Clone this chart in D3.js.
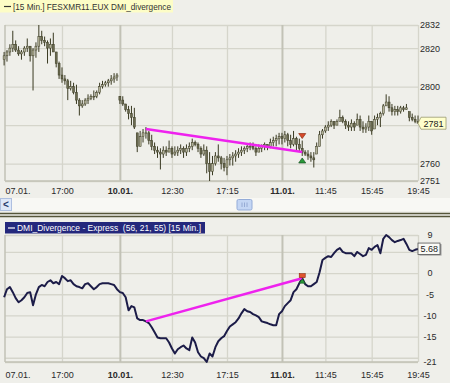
<!DOCTYPE html>
<html><head><meta charset="utf-8">
<script src="https://cdn.jsdelivr.net/npm/d3@7"></script>
<style>
body{margin:0;background:#efefea;}
svg{display:block}
text{font-family:"Liberation Sans",Arial,sans-serif;}
</style>
</head><body>
<svg id="c" width="450" height="383"></svg>
<script>
// ---- data: 15-min bars, 07.01. ~12:00 to 11.01. 19:45 ----
const opens = [
2814,2816,2818,2820,2822,2819,2817,2818,2820,2821,
2816,2819,2821,2826,2824,2823,2820,2822,2818,2812,
2806,2804,2803,2799,2800,2797,2793,2790,2791,2793,
2794,2795,2795,2797,2800,2801,2802,2803,2804,2805,
2795,2793,2791,2788,2786,2784,2776,2769,2774,2776,
2776,2772,2769,2767,2766,2765,2767,2766,2768,2765,
2766,2767,2768,2766,2768,2769,2771,2770,2768,2765,
2767,2760,2756,2760,2764,2763,2760,2758,2762,2763,
2764,2765,2766,2767,2768,2769,2769,2768,2766,2768,
2769,2770,2769,2771,2772,2773,2774,2773,2775,2772,
2770,2773,2770,2768,2766,2765,2764,2763,2765,2769,
2775,2777,2779,2780,2782,2780,2782,2784,2782,2780,
2779,2781,2780,2783,2779,2778,2779,2782,2778,2783,
2784,2786,2790,2792,2789,2787,2788,2787,2789,2788,
2787,2784,2783,2782];
const highs = [
2818,2819,2822,2829,2824,2821,2819,2821,2825,2821,
2820,2823,2832,2829,2826,2824,2825,2828,2818,2813,
2810,2806,2804,2803,2802,2801,2794,2793,2794,2796,
2796,2798,2798,2802,2803,2803,2804,2806,2807,2807,
2795,2795,2791,2790,2790,2789,2776,2777,2778,2779,
2777,2775,2771,2769,2768,2769,2769,2772,2769,2769,
2769,2770,2769,2770,2771,2773,2772,2771,2769,2770,
2769,2766,2764,2766,2770,2764,2763,2764,2765,2766,
2767,2768,2769,2769,2770,2771,2771,2769,2770,2770,
2771,2770,2773,2774,2775,2776,2776,2777,2776,2775,
2777,2774,2773,2772,2767,2767,2766,2766,2771,2777,
2778,2780,2782,2783,2782,2783,2788,2785,2783,2782,
2783,2782,2786,2785,2782,2781,2785,2782,2785,2786,
2787,2791,2796,2795,2791,2790,2790,2790,2790,2791,
2787,2786,2785,2785];
const lows = [
2811,2813,2816,2818,2818,2816,2814,2816,2818,2813,
2798,2815,2818,2822,2821,2812,2816,2818,2810,2804,
2802,2801,2793,2798,2796,2791,2785,2789,2790,2791,
2793,2793,2794,2796,2799,2800,2800,2801,2802,2803,
2791,2790,2787,2783,2780,2778,2766,2769,2771,2773,
2770,2767,2765,2763,2757,2763,2764,2766,2763,2764,
2764,2765,2763,2764,2766,2767,2769,2766,2763,2764,
2755,2751,2754,2759,2761,2757,2756,2754,2759,2759,
2761,2763,2764,2765,2766,2767,2767,2764,2766,2766,
2767,2767,2768,2769,2769,2770,2770,2771,2769,2768,
2769,2767,2766,2764,2764,2762,2761,2758,2765,2769,
2773,2776,2777,2779,2778,2780,2782,2781,2778,2777,
2777,2777,2780,2777,2776,2776,2777,2775,2778,2780,
2779,2785,2790,2787,2785,2785,2785,2786,2787,2788,
2782,2782,2781,2782];
const closes = [
2816,2818,2820,2822,2819,2817,2818,2820,2821,2816,
2819,2821,2826,2824,2823,2820,2822,2818,2812,2806,
2804,2803,2799,2800,2797,2793,2790,2791,2793,2794,
2795,2795,2797,2800,2801,2802,2803,2804,2805,2806,
2793,2791,2788,2786,2784,2779,2769,2774,2776,2776,
2772,2769,2767,2766,2765,2767,2766,2768,2765,2766,
2767,2768,2766,2768,2769,2771,2770,2768,2765,2767,
2760,2756,2760,2764,2763,2760,2758,2762,2763,2764,
2765,2766,2767,2768,2769,2769,2768,2766,2768,2769,
2770,2769,2771,2772,2773,2774,2773,2775,2772,2770,
2773,2770,2768,2766,2765,2764,2763,2762,2769,2775,
2777,2779,2780,2782,2780,2782,2784,2782,2780,2779,
2781,2779,2783,2779,2778,2779,2782,2777,2783,2784,
2786,2790,2792,2789,2787,2788,2787,2789,2788,2789,
2784,2783,2782,2781];
const dmi = [
-5.7,-3.8,-3.3,-4.5,-5.9,-6.9,-6.4,-5.7,-4.7,-4.5,
-7.6,-5.0,-3.3,-2.8,-3.1,-2.1,-1.7,-2.4,-2.1,-2.6,
-0.7,-1.2,-1.9,-1.7,-2.6,-3.1,-3.3,-3.6,-2.6,-2.4,
-3.1,-3.8,-3.3,-2.6,-2.4,-2.4,-2.4,-2.6,-2.8,-3.8,
-4.5,-4.7,-5.7,-8.8,-7.8,-8.1,-10.7,-11.1,-11.1,-11.4,
-11.8,-12.8,-14.0,-15.2,-15.4,-15.4,-15.4,-16.4,-17.8,-19.0,
-18.0,-17.5,-17.1,-17.8,-18.2,-15.2,-16.4,-18.7,-19.7,-20.1,
-21.0,-19.0,-19.7,-17.5,-16.1,-15.4,-14.9,-13.7,-12.6,-12.1,
-11.6,-10.7,-9.5,-8.5,-9.0,-9.2,-9.7,-10.0,-10.4,-11.4,
-11.6,-11.8,-12.1,-12.3,-12.3,-9.7,-9.0,-7.8,-7.1,-6.4,
-4.5,-3.8,-2.4,-1.2,-2.6,-3.1,-3.1,-2.6,-2.1,0.2,
3.1,3.6,4.0,3.8,4.7,5.5,5.9,5.0,4.7,4.7,
4.7,4.0,5.0,4.5,4.0,4.3,5.9,5.5,6.2,6.6,
4.7,8.1,9.0,8.5,7.8,7.3,7.6,7.8,8.1,6.9,
5.5,5.2,5.5,5.68];
// divergence lines: [barIndex, value]
const divPrice = [[49, 2778], [103, 2766]];
const divDmi = [[49, -11.4], [103, -1.2]];
const signalBar = 103;
// axis ticks
const xTickIdx = [0, 20, 40, 58, 77, 96, 111, 127, 143];
const xTickLabels = ["07.01.", "17:00", "10.01.", "12:30", "17:15", "11.01.", "11:45", "15:45", "19:45"];
const xTickBold = [false, false, true, false, false, true, false, false, false];
const priceTicks = [2832, 2820, 2800, 2780, 2760, 2751];
const priceTickShown = ["2832", "2820", "2800", "", "2760", "2751"];
const dmiTicks = [9, 5, 0, -5, -10, -15, -20, -21];
const dmiTickShown = ["9", "", "0", "-5", "-10", "-15", "", "-21"];
const upperTitle = "[15 Min.] FESXMR11.EUX DMI_divergence";
const lowerTitle = "DMI_Divergence - Express  (56, 21, 55) [15 Min.]";

// ---- drawing ----
const W = 450, H = 383, L = 5, R = 418;
const svg = d3.select('#c');
svg.append('rect').attr('width', W).attr('height', H).attr('fill', '#efefea');

const x = d3.scaleLinear().domain([0, 143]).range([4.1, 418]);
const yP = d3.scaleLinear().domain([2751, 2832]).range([181, 25]);
const yD = d3.scaleLinear().domain([-21, 9]).range([362, 235]);

const gridCol = '#d5d5cb', dayCol = '#c2c2b6';

function panel(yScale, top, bottom, ticks, shown, labelMode) {
  const g = svg.append('g');
  const ya = d3.axisRight(yScale).tickValues(ticks).tickFormat((d, i) => shown[i])
    .tickSize(-(R - L)).tickPadding(2);
  const gy = g.append('g').attr('transform', `translate(${R},0)`).call(ya);
  gy.select('.domain').remove();
  gy.selectAll('line').attr('stroke', gridCol).attr('stroke-width', 1.3);
  gy.selectAll('text').attr('fill', '#2a2a2a').attr('font-size', 9)
    .attr('font-family', '"Liberation Sans",Arial,sans-serif');
  if (labelMode === 'mid') gy.selectAll('text').attr('text-anchor', 'middle').attr('x', 12);
  const xa = d3.axisBottom(x).tickValues(xTickIdx).tickFormat((d, i) => xTickLabels[i])
    .tickSize(-(bottom - top)).tickPadding(labelMode === 'mid' ? 10 : 7);
  const gx = g.append('g').attr('transform', `translate(0,${bottom})`).call(xa);
  gx.select('.domain').remove();
  gx.selectAll('.tick line').attr('stroke', (d, i) => xTickBold[i] ? dayCol : gridCol)
    .attr('stroke-width', (d, i) => xTickBold[i] ? 2 : 1.3)
    .attr('opacity', (d, i) => i === 0 ? 0 : 1);
  gx.selectAll('text').attr('fill', '#2a2a2a').attr('font-size', 9)
    .attr('font-family', '"Liberation Sans",Arial,sans-serif')
    .attr('font-weight', (d, i) => xTickBold[i] ? 'bold' : 'normal')
    .attr('text-anchor', (d, i) => i === 0 ? 'start' : 'middle')
    .attr('x', (d, i) => i === 0 ? 1 : 0);
  g.append('line').attr('x1', L).attr('x2', L).attr('y1', top).attr('y2', bottom)
    .attr('stroke', dayCol).attr('stroke-width', 1.5);
  g.append('line').attr('x1', L).attr('x2', R).attr('y1', bottom).attr('y2', bottom)
    .attr('stroke', dayCol).attr('stroke-width', 1.3);
  return g;
}

// upper legend
svg.append('rect').attr('x', 0).attr('y', 0).attr('width', 173).attr('height', 12.5).attr('fill', '#fdfdc6');
svg.append('line').attr('x1', 4).attr('x2', 11).attr('y1', 6.5).attr('y2', 6.5).attr('stroke', '#333').attr('stroke-width', 1.2);
svg.append('text').attr('x', 13).attr('y', 9.8).attr('font-size', 9).attr('fill', '#333')
  .attr('textLength', 158).attr('lengthAdjust', 'spacingAndGlyphs').text(upperTitle);

panel(yP, 25, 181, priceTicks, priceTickShown, 'start');

// bars
const bars = svg.append('g');
const barCol = '#3a3a22';
d3.range(closes.length).forEach(i => {
  const cx = x(i);
  bars.append('line').attr('x1', cx).attr('x2', cx).attr('y1', yP(highs[i])).attr('y2', yP(lows[i]))
    .attr('stroke', barCol).attr('stroke-width', 1);
  const y0 = yP(Math.max(opens[i], closes[i])), y1 = yP(Math.min(opens[i], closes[i]));
  bars.append('rect').attr('x', cx - 1).attr('y', y0).attr('width', 2).attr('height', Math.max(0.8, y1 - y0))
    .attr('fill', closes[i] >= opens[i] ? '#b4b39a' : '#6a6a50').attr('stroke', barCol).attr('stroke-width', 0.5);
});

// upper divergence line
svg.append('line').attr('x1', x(divPrice[0][0])).attr('y1', yP(divPrice[0][1]))
  .attr('x2', x(divPrice[1][0])).attr('y2', yP(divPrice[1][1]))
  .attr('stroke', '#ee22ee').attr('stroke-width', 2.5);
{
  const sx = x(signalBar), hy = yP(highs[signalBar]) - 2, ly = yP(lows[signalBar]) + 2;
  svg.append('path').attr('d', `M${sx - 3.5},${hy - 5}L${sx + 3.5},${hy - 5}L${sx},${hy}Z`)
    .attr('fill', '#d84a2a').attr('stroke', '#8a2a10').attr('stroke-width', 0.7);
  svg.append('path').attr('d', `M${sx - 3.5},${ly + 5}L${sx + 3.5},${ly + 5}L${sx},${ly}Z`)
    .attr('fill', '#2a9a3a').attr('stroke', '#145020').attr('stroke-width', 0.7);
}
{
  const v = closes[closes.length - 1], yy = yP(v);
  svg.append('path').attr('d', `M418,${yy}L421,${yy - 6}L446,${yy - 6}L446,${yy + 6}L421,${yy + 6}Z`)
    .attr('fill', '#ffffcc').attr('stroke', '#9a9a70').attr('stroke-width', 0.8);
  svg.append('text').attr('x', 423.5).attr('y', yy + 3.3).attr('font-size', 9).attr('fill', '#222').text(String(v));
}

// scrollbar strip and separator
svg.append('rect').attr('x', 0).attr('y', 198).attr('width', W).attr('height', 13).attr('fill', '#f8f8f4');
svg.append('rect').attr('x', 0.5).attr('y', 198.5).attr('width', 11).attr('height', 12).attr('fill', '#dfe8f8').attr('stroke', '#aebfe0');
svg.append('text').attr('x', 3).attr('y', 208).attr('font-size', 10).attr('font-weight', 'bold').attr('fill', '#2a3a6a').text('<');
svg.append('rect').attr('x', 237).attr('y', 199.5).attr('width', 15).attr('height', 10.5).attr('rx', 1.5)
  .attr('fill', '#c4d6f4').attr('stroke', '#94acd8');
[242, 244.5, 247].forEach(gx => svg.append('line').attr('x1', gx).attr('x2', gx).attr('y1', 202.5).attr('y2', 207)
  .attr('stroke', '#8aa0cc').attr('stroke-width', 0.8));
svg.append('line').attr('x1', 0).attr('x2', W).attr('y1', 213.5).attr('y2', 213.5).attr('stroke', '#55553a').attr('stroke-width', 1.4);
svg.append('line').attr('x1', 0).attr('x2', W).attr('y1', 216.5).attr('y2', 216.5).attr('stroke', '#55553a').attr('stroke-width', 1.4);

// lower panel
panel(yD, 235, 362, dmiTicks, dmiTickShown, 'mid');
svg.append('rect').attr('x', 5).attr('y', 222).attr('width', 200).attr('height', 11.5).attr('fill', '#24287c');
svg.append('line').attr('x1', 8).attr('x2', 15).attr('y1', 228).attr('y2', 228).attr('stroke', '#fff').attr('stroke-width', 1.2);
svg.append('text').attr('x', 17).attr('y', 231).attr('font-size', 9).attr('fill', '#fff')
  .attr('textLength', 184).attr('lengthAdjust', 'spacingAndGlyphs')
  .style('white-space', 'pre').text(lowerTitle);

const line = d3.line().x((d, i) => x(i)).y(d => yD(d));
svg.append('path').datum(dmi).attr('d', line).attr('fill', 'none')
  .attr('stroke', '#1c1c48').attr('stroke-width', 2).attr('stroke-linejoin', 'round');
svg.append('line').attr('x1', x(divDmi[0][0])).attr('y1', yD(divDmi[0][1]))
  .attr('x2', x(divDmi[1][0])).attr('y2', yD(divDmi[1][1]))
  .attr('stroke', '#ee22ee').attr('stroke-width', 2.5);
{
  const sx = x(signalBar), sy = yD(dmi[signalBar]);
  svg.append('rect').attr('x', sx - 3).attr('y', sy - 4.5).attr('width', 6).attr('height', 4)
    .attr('fill', '#e0542e').attr('stroke', '#8a2a10').attr('stroke-width', 0.6);
  svg.append('path').attr('d', `M${sx - 3},${sy + 5}L${sx + 3},${sy + 5}L${sx},${sy + 0.5}Z`)
    .attr('fill', '#2a9a3a').attr('stroke', '#145020').attr('stroke-width', 0.6);
}
{
  const v = dmi[dmi.length - 1], yy = yD(v);
  svg.append('rect').attr('x', 419.5).attr('y', yy - 5).attr('width', 22).attr('height', 11.5)
    .attr('fill', '#9a9a9a');
  svg.append('rect').attr('x', 418).attr('y', yy - 6).attr('width', 22).attr('height', 11.5)
    .attr('fill', '#fafaf6').attr('stroke', '#555').attr('stroke-width', 0.8);
  svg.append('text').attr('x', 420.5).attr('y', yy + 3).attr('font-size', 9).attr('fill', '#222').text(v.toFixed(2));
}
</script>
</body></html>
